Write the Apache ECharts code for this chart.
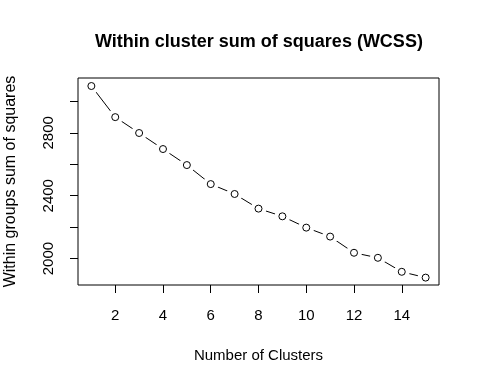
<!DOCTYPE html>
<html>
<head>
<meta charset="utf-8">
<script src="https://cdn.jsdelivr.net/npm/echarts@6/dist/echarts.min.js"></script>
<style>
html,body{margin:0;padding:0;background:#fff;}
#c{width:480px;height:384px;}
</style>
</head>
<body>
<div id="c"></div>
<script>
var clusters = [1, 2, 3, 4, 5, 6, 7, 8, 9, 10, 11, 12, 13, 14, 15];
var wcss = [3098, 2900, 2799, 2697, 2595, 2474, 2411, 2318, 2269, 2197, 2140, 2037, 2005, 1916, 1879];
var xTicks = [2, 4, 6, 8, 10, 12, 14];
var yTicks = [2000, 2200, 2400, 2600, 2800, 3000];
var yLabels = [2000, 2400, 2800];
var titleText = 'Within cluster sum of squares (WCSS)';
var xName = 'Number of Clusters';
var yName = 'Within groups sum of squares';

var pts = clusters.map(function (c, i) { return [c, wcss[i]]; });
var FONT = '"Liberation Sans", Arial, sans-serif';
function plain(v) { return String(v); }

var chart = echarts.init(document.getElementById('c'), null, {renderer: 'canvas'});
chart.setOption({
  backgroundColor: '#fff',
  animation: false,
  title: {
    text: titleText,
    left: 90,
    top: 28,
    textStyle: {fontFamily: FONT, fontSize: 18, fontWeight: 'bold', color: '#000'}
  },
  grid: {
    left: 78, top: 78, right: 41, bottom: 99,
    outerBoundsMode: 'none', containLabel: false,
    show: true, z: 10, borderColor: '#000', borderWidth: 1, backgroundColor: 'transparent'
  },
  xAxis: {
    type: 'value', min: 0.44, max: 15.56,
    axisLine: {show: false},
    splitLine: {show: false},
    axisTick: {show: true, customValues: xTicks, length: 8, lineStyle: {color: '#000', width: 1}},
    axisLabel: {customValues: xTicks, margin: 23, formatter: plain, fontFamily: FONT, fontSize: 15, color: '#000'},
    name: xName, nameLocation: 'middle', nameGap: 63,
    nameTextStyle: {fontFamily: FONT, fontSize: 15, color: '#000'}
  },
  yAxis: {
    type: 'value', min: 1832, max: 3149,
    axisLine: {show: false},
    splitLine: {show: false},
    axisTick: {show: true, customValues: yTicks, length: 8, lineStyle: {color: '#000', width: 1}},
    axisLabel: {customValues: yLabels, rotate: 90, margin: 22, formatter: plain, fontFamily: FONT, fontSize: 15, color: '#000'},
    name: yName, nameLocation: 'middle', nameGap: 59, nameRotate: 90,
    nameTextStyle: {fontFamily: FONT, fontSize: 16, color: '#000'}
  },
  series: [
    {
      type: 'line', data: pts, showSymbol: true, symbol: 'circle', symbolSize: 16,
      silent: true, z: 2, clip: false,
      itemStyle: {color: '#fff', borderWidth: 0, opacity: 1},
      lineStyle: {color: '#000', width: 1, type: 'solid'}
    },
    {
      type: 'scatter', data: pts, symbol: 'circle', symbolSize: 7, silent: true, z: 5,
      itemStyle: {color: '#fff', borderColor: '#000', borderWidth: 1, opacity: 1}
    }
  ]
});
</script>
</body>
</html>
